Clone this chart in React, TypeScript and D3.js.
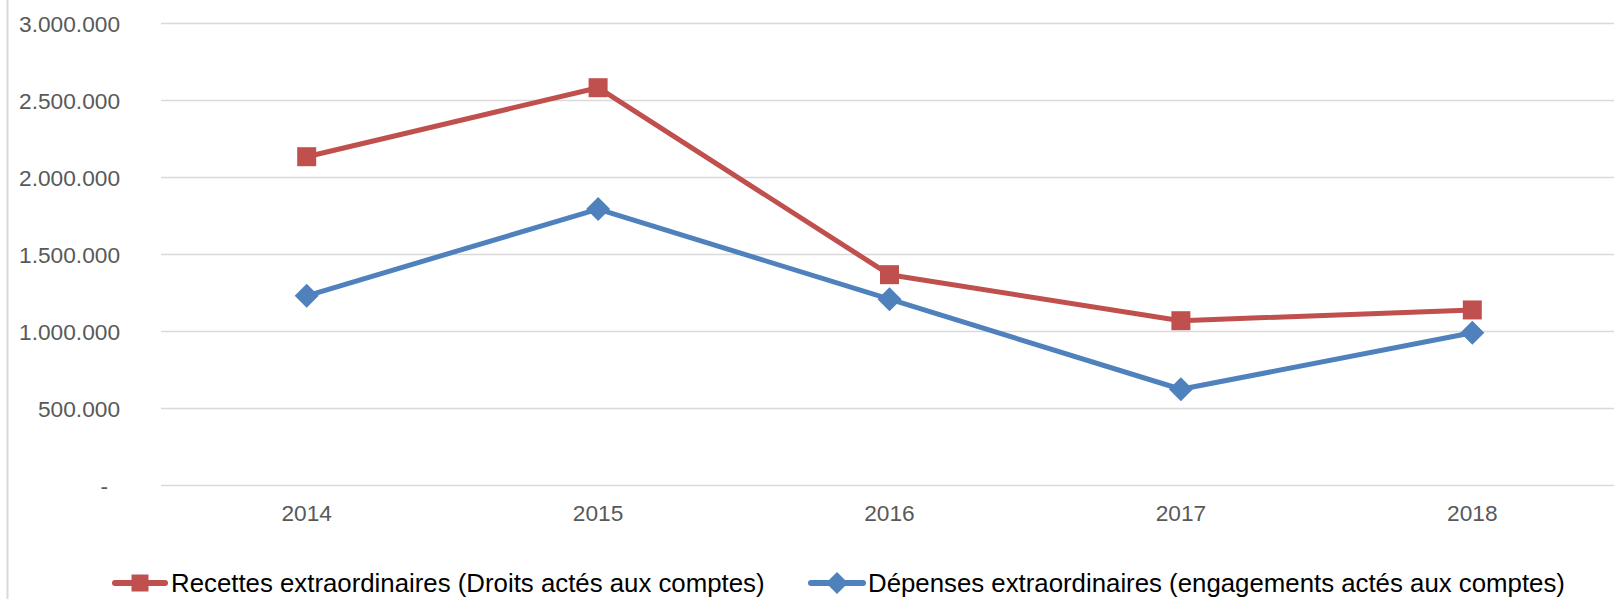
import React from "react";
import { scalePoint, scaleLinear, line } from "d3";

const years = ["2014", "2015", "2016", "2017", "2018"];
const recettes = [2135000, 2583000, 1369000, 1070000, 1140000];
const depenses = [1232000, 1795000, 1210000, 625000, 992000];
const yTicks = [0, 500000, 1000000, 1500000, 2000000, 2500000, 3000000];
const seriesNames = [
  "Recettes extraordinaires (Droits actés aux comptes)",
  "Dépenses extraordinaires (engagements actés aux comptes)",
];

const W = 1614;
const H = 599;
const RED = "#C0504D";
const BLUE = "#4F81BD";
const GRID = "#D9D9D9";
const FONT = "'Liberation Sans', Arial, sans-serif";

const fmt = (v: number) =>
  v === 0 ? "-" : String(v).replace(/\B(?=(\d{3})+(?!\d))/g, ".");

const App = () => {
  const x = scalePoint<string>().domain(years).range([161, 1618]).padding(0.5);
  const y = scaleLinear().domain([0, 3000000]).range([485.5, 23.5]);

  const path = line<number>()
    .x((_, i) => x(years[i]) as number)
    .y((d) => y(d));

  const square = (cx: number, cy: number, s: number, key: string) => (
    <rect key={key} x={cx - s / 2} y={cy - s / 2} width={s} height={s} fill={RED} />
  );
  const diamond = (cx: number, cy: number, r: number, key: string) => (
    <path
      key={key}
      d={`M${cx},${cy - r}L${cx + r},${cy}L${cx},${cy + r}L${cx - r},${cy}Z`}
      fill={BLUE}
    />
  );

  return (
    <svg
      width={W}
      height={H}
      style={{ position: "absolute", left: 0, top: 0, display: "block", background: "#fff" }}
      fontFamily={FONT}
    >
      <line x1={7.5} x2={7.5} y1={0} y2={H} stroke={GRID} strokeWidth={2} />

      {yTicks.map((t) => (
        <g key={t}>
          <line x1={161} x2={W} y1={y(t)} y2={y(t)} stroke={GRID} strokeWidth={1.5} />
          <text
            x={t === 0 ? 108 : 120}
            y={y(t)}
            dy="0.36em"
            textAnchor="end"
            fontSize={22.7}
            fill="#595959"
          >
            {fmt(t)}
          </text>
        </g>
      ))}

      {years.map((yr) => (
        <text key={yr} x={x(yr)} y={521} textAnchor="middle" fontSize={22.7} fill="#595959">
          {yr}
        </text>
      ))}

      <path d={path(recettes) || ""} fill="none" stroke={RED} strokeWidth={5} strokeLinejoin="round" />
      <path d={path(depenses) || ""} fill="none" stroke={BLUE} strokeWidth={5} strokeLinejoin="round" />

      {recettes.map((v, i) => square(x(years[i]) as number, y(v), 19, "r" + i))}
      {depenses.map((v, i) => diamond(x(years[i]) as number, y(v), 12, "b" + i))}

      <g>
        <line x1={115} x2={165} y1={583} y2={583} stroke={RED} strokeWidth={6} strokeLinecap="round" />
        {square(140, 583, 17, "lr")}
        <text x={171} y={583} dy="0.36em" fontSize={25.8} fill="#000">
          {seriesNames[0]}
        </text>
        <line x1={811} x2={863} y1={583} y2={583} stroke={BLUE} strokeWidth={6} strokeLinecap="round" />
        {diamond(837, 583, 11, "lb")}
        <text x={868} y={583} dy="0.36em" fontSize={25.8} fill="#000">
          {seriesNames[1]}
        </text>
      </g>
    </svg>
  );
};

export default App;
